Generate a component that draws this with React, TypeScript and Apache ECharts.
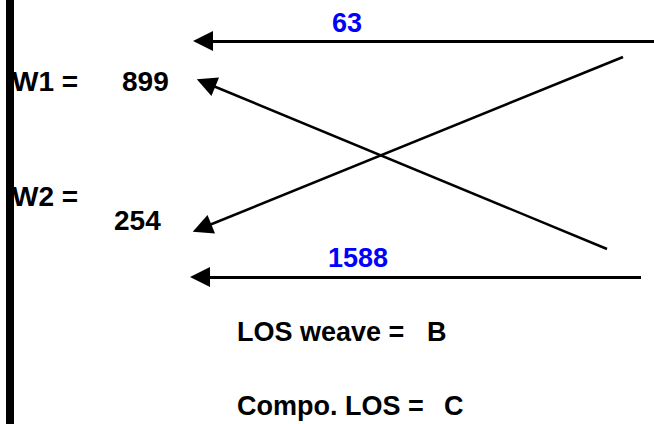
import React, { useEffect, useRef } from "react";
import * as echarts from "echarts";

// Data
const flowValues = [63, 1588];
const weightNames = ["W1 =", "W2 ="];
const weightValues = [899, 254];
const losNames = ["LOS weave =", "Compo. LOS ="];
const losValues = ["B", "C"];

// Layout (diagram coordinates, 1 unit = 1 px)
const W = 654;
const H = 424;
// arrows: [fromX, fromY, toX, toY, width]
const arrows: number[][] = [
  [654, 41, 203, 41, 3],
  [641, 277, 200, 277, 3],
  [607, 249, 206, 83, 2.5],
  [623, 57, 202, 228, 2.5],
];
const flowPos = [
  [332, 23],
  [328, 258],
];
const weightNamePos = [
  [12, 81],
  [12, 196],
];
const weightValuePos = [
  [122, 81],
  [114, 220],
];
const losNamePos = [
  [237, 332],
  [237, 406],
];
const losValuePos = [
  [427, 332],
  [444, 406],
];

const FONT = "'Liberation Sans', Arial, Helvetica, sans-serif";

function textSeries(items: { pos: number[]; text: string }[], color: string, size: number) {
  return {
    type: "scatter",
    symbolSize: 0,
    silent: true,
    itemStyle: { opacity: 1 },
    data: items.map((it) => ({ value: it.pos, name: it.text })),
    label: {
      show: true,
      position: [0, 0],
      align: "left",
      verticalAlign: "middle",
      formatter: (p: any) => p.name,
      color,
      opacity: 1,
      fontSize: size,
      fontWeight: "bold",
      fontFamily: FONT,
    },
  };
}

export default function App() {
  const ref = useRef<HTMLDivElement>(null);
  useEffect(() => {
    document.body.style.margin = "0";
    const chart = echarts.init(ref.current!, null, { renderer: "svg" });
    chart.setOption({
      animation: false,
      backgroundColor: "#ffffff",
      grid: { left: 0, right: 0, top: 0, bottom: 0 },
      xAxis: { type: "value", min: 0, max: W, show: false },
      yAxis: { type: "value", min: 0, max: H, inverse: true, show: false },
      graphic: [
        { type: "rect", shape: { x: 6, y: 0, width: 8, height: H }, style: { fill: "#000" } },
      ],
      series: [
        {
          type: "lines",
          coordinateSystem: "cartesian2d",
          symbol: ["none", "triangle"],
          symbolSize: 20,
          silent: true,
          lineStyle: { color: "#000", opacity: 1 },
          data: arrows.map((a) => ({
            coords: [
              [a[0], a[1]],
              [a[2], a[3]],
            ],
            lineStyle: { width: a[4], color: "#000" },
          })),
        },
        textSeries(
          flowValues.map((v, i) => ({ pos: flowPos[i], text: String(v) })),
          "#0000ff",
          27
        ),
        textSeries(
          weightNames.map((v, i) => ({ pos: weightNamePos[i], text: v })),
          "#000000",
          28
        ),
        textSeries(
          weightValues.map((v, i) => ({ pos: weightValuePos[i], text: String(v) })),
          "#000000",
          28
        ),
        textSeries(
          losNames.map((v, i) => ({ pos: losNamePos[i], text: v })),
          "#000000",
          27
        ),
        textSeries(
          losValues.map((v, i) => ({ pos: losValuePos[i], text: v })),
          "#000000",
          27
        ),
      ],
    });
    return () => chart.dispose();
  }, []);
  return (
    <div
      ref={ref}
      style={{ position: "absolute", left: 0, top: 0, width: W, height: H }}
    />
  );
}
